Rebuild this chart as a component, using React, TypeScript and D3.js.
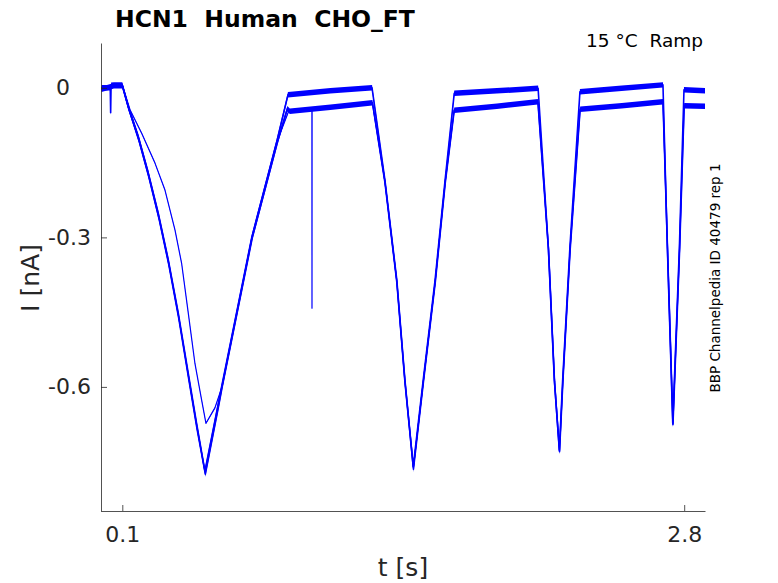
import React, { useEffect, useRef } from 'react';
import * as d3 from 'd3';

type Pt = [number, number]; // [t in s, I in nA]

const chartTitle = 'HCN1  Human  CHO_FT';
const conditionLabel = '15 °C  Ramp';
const sourceLabel = 'BBP Channelpedia ID 40479 rep 1';
const xLabel = 't [s]';
const yLabel = 'I [nA]';

const xTicks = [0.1, 2.8];
const xTickLabels = ['0.1', '2.8'];
const yTicks = [0, -0.3, -0.6];
const yTickLabels = ['0   ', '-0.3', '-0.6'];

const xDomain: [number, number] = [0, 2.9];
const yDomain: [number, number] = [-0.85, 0.09];

// sweep that settles on the upper plateau
const sweepUpper: Pt[] = [
  [0.0, 0.0], [0.042, 0.0], [0.044, -0.05], [0.046, 0.005], [0.06, 0.006], [0.1, 0.006],
  [0.129, -0.038], [0.177, -0.098], [0.225, -0.171], [0.273, -0.252], [0.321, -0.345],
  [0.369, -0.452], [0.417, -0.573], [0.457, -0.673], [0.497, -0.769],
  [0.56, -0.636], [0.577, -0.6], [0.722, -0.3], [0.842, -0.108], [0.896, -0.014],
  [1.1, -0.006], [1.3, 0.0],
  [1.362, -0.185], [1.419, -0.385], [1.458, -0.586], [1.498, -0.76],
  [1.546, -0.586], [1.603, -0.385], [1.651, -0.185], [1.695, -0.011],
  [1.9, -0.006], [2.098, -0.001],
  [2.147, -0.319], [2.176, -0.586], [2.2, -0.727], [2.216, -0.586], [2.251, -0.319], [2.299, -0.008],
  [2.5, -0.001], [2.698, 0.006],
  [2.719, -0.319], [2.745, -0.673], [2.777, -0.319], [2.799, -0.004],
  [2.9, -0.006],
];

// sweep that settles on the lower plateau
const sweepLower: Pt[] = [
  [0.0, -0.003], [0.06, 0.004], [0.1, 0.004],
  [0.131, -0.042], [0.179, -0.104], [0.227, -0.178], [0.275, -0.26], [0.323, -0.354],
  [0.371, -0.462], [0.419, -0.584], [0.459, -0.684], [0.499, -0.775],
  [0.562, -0.64], [0.58, -0.6], [0.725, -0.3], [0.846, -0.108], [0.893, -0.042], [0.905, -0.047],
  [1.1, -0.039], [1.302, -0.03],
  [1.362, -0.19], [1.419, -0.39], [1.458, -0.59], [1.499, -0.765],
  [1.547, -0.59], [1.604, -0.39], [1.652, -0.19], [1.695, -0.045],
  [1.9, -0.037], [2.097, -0.028],
  [2.148, -0.325], [2.177, -0.59], [2.201, -0.73], [2.217, -0.59], [2.252, -0.325], [2.3, -0.043],
  [2.5, -0.036], [2.698, -0.028],
  [2.72, -0.325], [2.746, -0.676], [2.778, -0.325], [2.8, -0.036],
  [2.9, -0.037],
];

// first sweep: slower activation on the first ramp, one spike at ~1.01 s
const sweepFirst: Pt[] = [
  [0.0, 0.0], [0.1, 0.006],
  [0.137, -0.044], [0.193, -0.091], [0.257, -0.151], [0.305, -0.205], [0.353, -0.285],
  [0.385, -0.352], [0.417, -0.452], [0.449, -0.553], [0.481, -0.626], [0.502, -0.673],
  [0.545, -0.642], [0.579, -0.6], [0.723, -0.3], [0.843, -0.108], [0.902, -0.044],
  [1.011, -0.041], [1.0115, -0.442], [1.012, -0.041], [1.302, -0.031],
  [1.362, -0.188], [1.419, -0.388], [1.458, -0.588], [1.499, -0.762],
  [1.547, -0.588], [1.604, -0.388], [1.652, -0.188], [1.695, -0.044],
  [2.097, -0.029],
  [2.148, -0.322], [2.177, -0.588], [2.201, -0.728], [2.217, -0.588], [2.252, -0.322], [2.3, -0.042],
  [2.698, -0.029],
  [2.72, -0.322], [2.746, -0.674], [2.778, -0.322], [2.8, -0.035],
  [2.9, -0.036],
];

// recording noise (half band, nA) per sweep
const sweepNoise = [0.0012, 0.0055, 0.0055];

const App: React.FC = () => {
  const svgRef = useRef<SVGSVGElement>(null);

  useEffect(() => {
    if (!svgRef.current) return;
    const width = 778;
    const height = 583;
    const svg = d3.select(svgRef.current);
    svg.selectAll('*').remove();
    svg.attr('width', width).attr('height', height);

    const x = d3.scaleLinear().domain(xDomain).range([101.5, 705]);
    const y = d3.scaleLinear().domain(yDomain).range([511.5, 43]);

    const font = "'DejaVu Sans', sans-serif";
    const axisColor = '#262626';

    // traces
    const sweeps = [sweepFirst, sweepLower, sweepUpper];
    const traceG = svg.append('g');
    sweeps.forEach((s, k) => {
      const n = sweepNoise[k];
      const band = d3.area<Pt>()
        .x(d => x(d[0]))
        .y0(d => y(d[1] - n))
        .y1(d => y(d[1] + n));
      traceG.append('path')
        .attr('d', band(s) || '')
        .attr('fill', '#0000ff')
        .attr('stroke', 'none');
      const line = d3.line<Pt>().x(d => x(d[0])).y(d => y(d[1]));
      traceG.append('path')
        .attr('d', line(s) || '')
        .attr('fill', 'none')
        .attr('stroke', '#0000ff')
        .attr('stroke-width', k === 0 ? 1.2 : 1.6)
        .attr('stroke-linejoin', 'round');
    });

    // axes
    const yAxis = d3.axisLeft(y)
      .tickValues(yTicks)
      .tickSizeInner(-6)
      .tickSizeOuter(0)
      .tickPadding(10)
      .tickFormat((d, i) => yTickLabels[i]);
    const gy = svg.append('g').attr('transform', 'translate(101,0)').call(yAxis);

    const xAxis = d3.axisBottom(x)
      .tickValues(xTicks)
      .tickSizeInner(-6)
      .tickSizeOuter(0)
      .tickPadding(15)
      .tickFormat((d, i) => xTickLabels[i]);
    const gx = svg.append('g').attr('transform', 'translate(0,511)').call(xAxis);

    [gx, gy].forEach(g => {
      g.attr('font-family', font).attr('font-size', 22);
      g.select('.domain').attr('stroke', axisColor).attr('stroke-width', 0.8);
      g.selectAll('.tick line').attr('stroke', axisColor).attr('stroke-width', 0.8);
      g.selectAll('.tick text').attr('fill', axisColor).style('white-space', 'pre');
    });

    // axis labels
    svg.append('text')
      .attr('x', 403).attr('y', 576)
      .attr('text-anchor', 'middle')
      .attr('font-family', font).attr('font-size', 25)
      .attr('fill', axisColor)
      .text(xLabel);

    svg.append('text')
      .attr('transform', 'translate(39,278) rotate(-90)')
      .attr('text-anchor', 'middle')
      .attr('font-family', font).attr('font-size', 25)
      .attr('fill', axisColor)
      .text(yLabel);

    // title + annotations
    svg.append('text')
      .attr('x', 115).attr('y', 27)
      .attr('font-family', font).attr('font-size', 23.5).attr('font-weight', 'bold')
      .attr('fill', '#000')
      .style('white-space', 'pre')
      .text(chartTitle);

    svg.append('text')
      .attr('x', 703).attr('y', 47)
      .attr('text-anchor', 'end')
      .attr('font-family', font).attr('font-size', 18.5)
      .attr('fill', '#000')
      .style('white-space', 'pre')
      .text(conditionLabel);

    svg.append('text')
      .attr('transform', 'translate(720,278) rotate(-90)')
      .attr('text-anchor', 'middle')
      .attr('font-family', font).attr('font-size', 13.5)
      .attr('fill', '#000')
      .text(sourceLabel);
  }, []);

  return (
    <svg
      ref={svgRef}
      style={{ position: 'absolute', left: 0, top: 0, background: '#fff' }}
    />
  );
};

export default App;
